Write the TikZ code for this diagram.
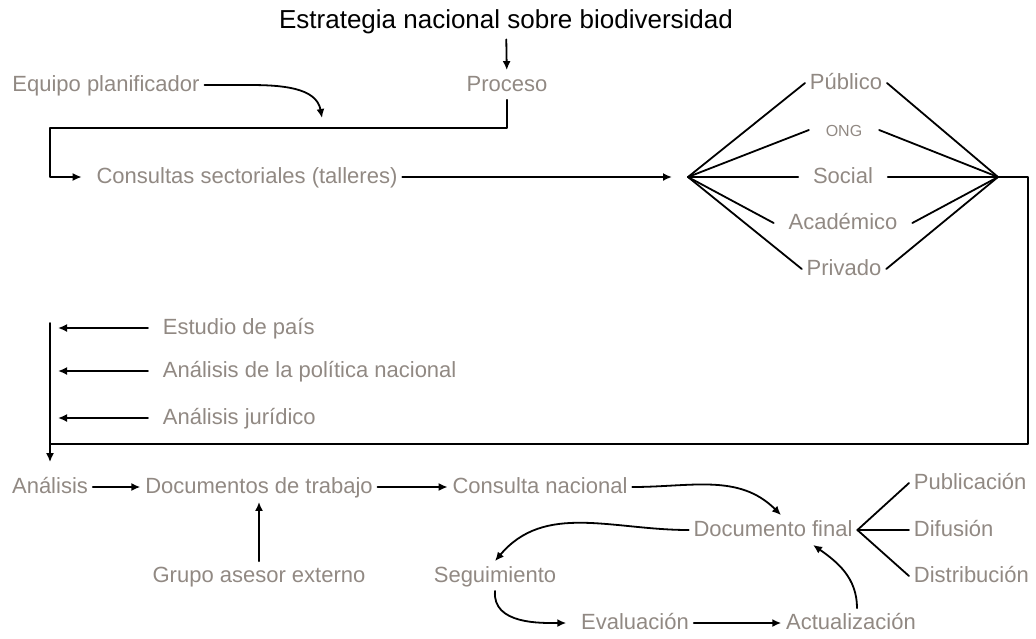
\documentclass[tikz,border=0pt]{standalone}
\usepackage{fontspec}
\setmainfont{Liberation Sans}
\usetikzlibrary{arrows.meta}
\definecolor{txtgray}{RGB}{145,137,131}
\tikzset{
  lbl/.style={text=txtgray,font=\fontsize{11}{13}\selectfont,inner sep=2pt,text height=8pt,text depth=2pt},
  ttl/.style={text=black,font=\fontsize{13}{15}\selectfont,inner sep=2pt,text height=9.5pt,text depth=3pt}
}

\begin{document}
\begin{tikzpicture}[line cap=round,line join=round,>={Latex[length=4.5pt,width=4pt]},x=0.5pt,y=-0.5pt,line width=0.9pt]
\useasboundingbox (0,0) rectangle (1036,638);
\node[ttl] (estrategia) at (506,22) {Estrategia nacional sobre biodiversidad};
\node[lbl] (proceso) at (507,85) {Proceso};
\node[lbl] (equipo) at (106,85) {Equipo planificador};
\node[lbl] (consultas) at (247,177) {Consultas sectoriales (talleres)};
\coordinate (eqtip) at (322,118);
\coordinate (hl) at (688,177);
\coordinate (hr) at (998,177);
\node[lbl] (publico) at (846,83) {Público};
\node[lbl,font=\fontsize{8}{10}\selectfont,inner xsep=8pt] (ong) at (844,130) {ONG};
\node[lbl,inner xsep=7pt] (social) at (843,177) {Social};
\node[lbl,inner xsep=7pt] (academico) at (843,223) {Académico};
\node[lbl] (privado) at (844,269) {Privado};
\coordinate (bartop) at (50,323);
\coordinate (barbot) at (50,444);
\node[lbl,anchor=west] (estudio) at (158,328) {Estudio de país};
\node[lbl,anchor=west] (politica) at (158,371) {Análisis de la política nacional};
\node[lbl,anchor=west] (juridico) at (158,418) {Análisis jurídico};
\node[lbl] (analisis) at (50,487) {Análisis};
\node[lbl] (documentos) at (259,487) {Documentos de trabajo};
\node[lbl] (consultanac) at (540,487) {Consulta nacional};
\node[lbl] (grupo) at (259,576) {Grupo asesor externo};
\node[lbl] (docfinal) at (773,530) {Documento final};
\node[lbl,anchor=west] (publicacion) at (909,483) {Publicación};
\node[lbl,anchor=west] (difusion) at (909,530) {Difusión};
\node[lbl,anchor=west] (distribucion) at (909,576) {Distribución};
\node[lbl] (seguimiento) at (495,576) {Seguimiento};
\node[lbl] (evaluacion) at (635,623) {Evaluación};
\node[lbl] (actualizacion) at (851,623) {Actualización};

\draw[->] (estrategia) -- (proceso);
\draw[->] (equipo.east) -- ++(44,0) to[out=0,in=100] (eqtip);
\draw[->,shorten >=5pt] (proceso.south) |- (50,128) |- (consultas.west);
\draw[->,shorten >=8pt] (consultas.east) -- (hl);
\foreach \n in {publico,ong,social,academico,privado}
{\draw (hl) -- (\n.west); \draw (\n.east) -- (hr);}
\draw[->,shorten >=5pt] (hr) -- (1028,177) |- (barbot) -- (analisis.north);
\draw (bartop) -- (barbot);
\foreach \n in {estudio,politica,juridico}
\draw[->,shorten <=5pt,shorten >=4pt] (\n.west) -- (\n.west -| bartop);
\draw[->] (analisis) -- (documentos);
\draw[->] (documentos) -- (consultanac);
\draw[->] (grupo) -- (documentos);
\draw[->] (consultanac.east) to[out=0,in=135] ([xshift=4pt]docfinal.north);
\draw[->] (docfinal.west) to[out=180,in=50] (seguimiento.north);
\draw[->,shorten >=5pt] (seguimiento.south) to[out=-95,in=180] (evaluacion.west);
\draw[->] (evaluacion) -- (actualizacion);
\draw[->] ([xshift=3pt]actualizacion.north) to[out=90,in=-35] ([xshift=20pt]docfinal.south);
\foreach \n in {publicacion,difusion,distribucion}
\draw (docfinal.east) -- (\n.west);
%\draw[txtgray] (0,0) rectangle (1036,638);
\end{tikzpicture}
\end{document}
